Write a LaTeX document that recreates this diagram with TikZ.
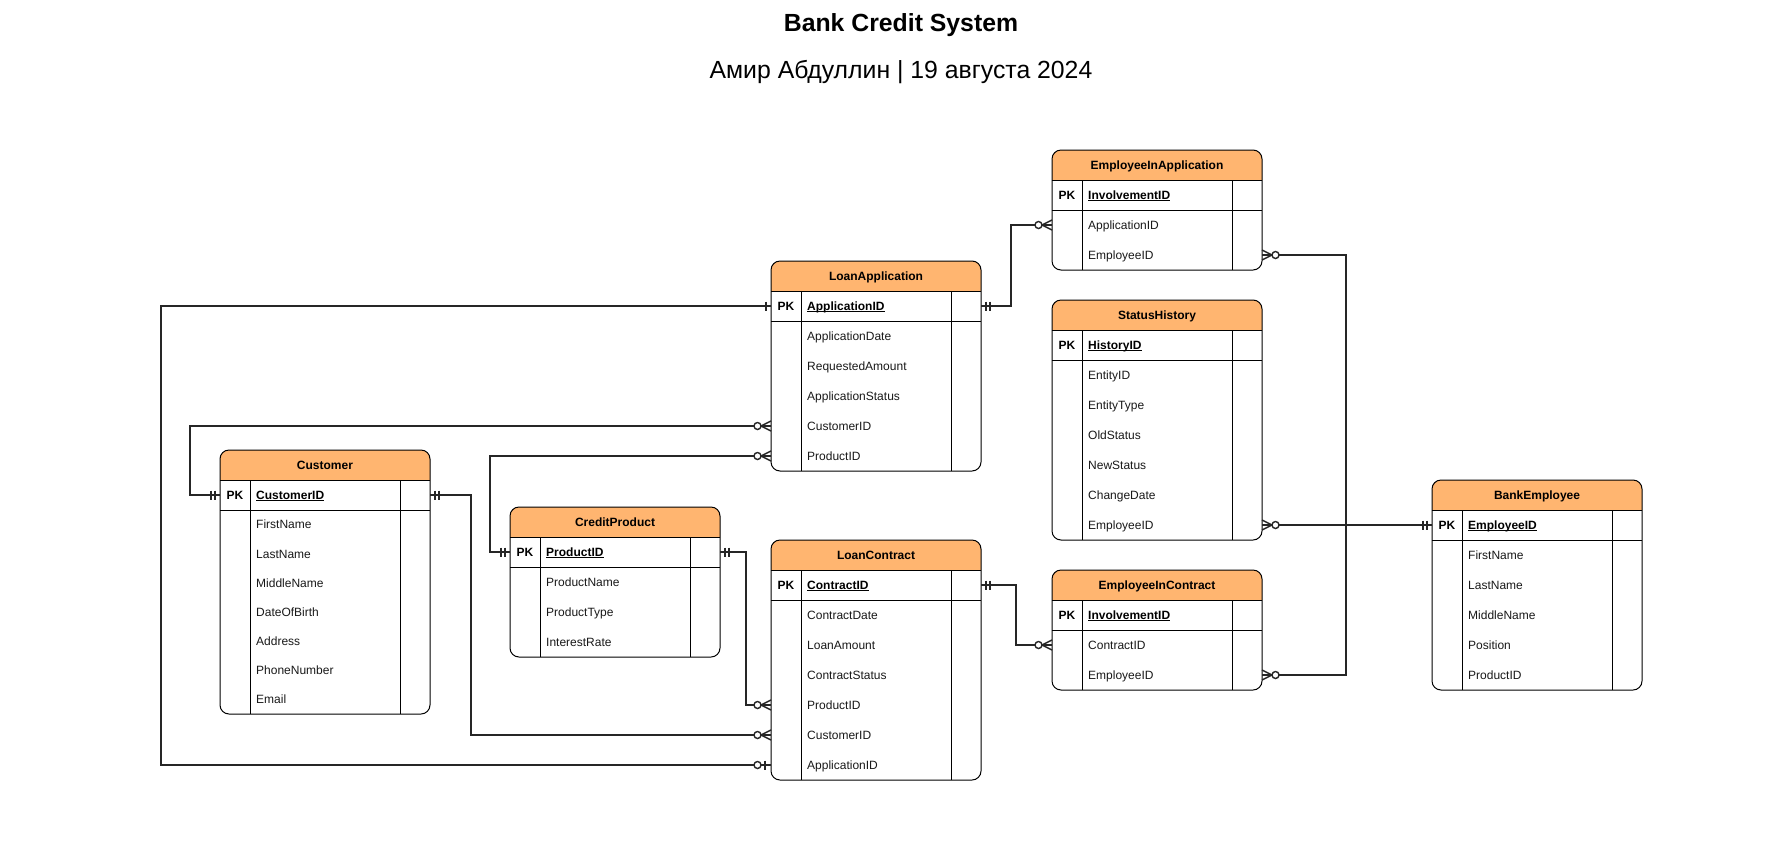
\documentclass[tikz,border=0pt]{standalone}
\usepackage{fontspec}
\setmainfont{Liberation Sans}
\usetikzlibrary{calc}
\definecolor{hdr}{HTML}{FFB570}
\newcommand{\keyul}[1]{\setbox0\hbox{#1}\rlap{\rule[-1.8pt]{\wd0}{0.9pt}}\box0}
\tikzset{
  x=1pt, y=-1pt,
  tbl/.style={draw=black, line width=1pt},
  conn/.style={draw=black!85, line width=1.6pt, line join=miter},
  mk/.style={draw=black!85, line width=1.4pt},
  attr/.style={anchor=base west, font=\fontsize{12}{14}\selectfont, inner sep=0pt, text=black!90},
  keytext/.style={anchor=base west, font=\fontsize{12}{14}\selectfont\bfseries, inner sep=0pt, text=black},
  pktext/.style={anchor=base, font=\fontsize{12}{14}\selectfont\bfseries, inner sep=0pt, text=black},
  hdrtext/.style={anchor=base, font=\fontsize{12}{14}\selectfont\bfseries, inner sep=0pt, text=black},
}
% #1 id, #2 x, #3 y, #4 title, #5 pk, #6 nrows, #7 row height, #8 attrs
\newcommand{\ertable}[8]{%
  \pgfmathsetmacro{\tb}{#3+60+#6*#7}
  \fill[white, rounded corners=9] (#2,#3) rectangle (#2+210,\tb);
  \begin{scope}
    \clip (#2-1,#3-1) rectangle (#2+211,#3+30);
    \fill[hdr, rounded corners=9] (#2,#3) rectangle (#2+210,\tb);
  \end{scope}
  \draw[tbl] (#2,#3+30) -- (#2+210,#3+30);
  \draw[tbl] (#2,#3+60) -- (#2+210,#3+60);
  \draw[tbl] (#2+30,#3+30) -- (#2+30,\tb);
  \draw[tbl] (#2+180,#3+30) -- (#2+180,\tb);
  \draw[tbl, rounded corners=9] (#2,#3) rectangle (#2+210,\tb);
  \node[hdrtext] (#1) at (#2+105,#3+19.3) {#4};
  \node[pktext] (#1-pkl) at (#2+15,#3+49.3) {PK};
  \node[keytext] (#1-pkn) at (#2+36,#3+49.3) {\keyul{#5}};
  \coordinate (#1-pk-l) at (#2,#3+45);
  \coordinate (#1-pk-r) at (#2+210,#3+45);
  \foreach \a [count=\i] in {#8} {
    \pgfmathsetmacro{\yc}{#3+60+(\i-0.5)*#7}
    \node[attr] (#1-a\i) at (#2+36,\yc+4.3) {\a};
    \coordinate (#1-\i-l) at (#2,\yc);
    \coordinate (#1-\i-r) at (#2+210,\yc);
  }
}
% markers: #1 end coordinate, #2 direction (+1 line leaves to the right, -1 to the left)
\newcommand{\mkmandone}[2]{%
  \draw[mk] ($(#1)+(#2*5,-4.5)$) -- ($(#1)+(#2*5,4.5)$);
  \draw[mk] ($(#1)+(#2*9,-4.5)$) -- ($(#1)+(#2*9,4.5)$);}
\newcommand{\mkone}[2]{%
  \draw[mk] ($(#1)+(#2*5,-4.5)$) -- ($(#1)+(#2*5,4.5)$);}
\newcommand{\mkzeromany}[2]{%
  \draw[mk] ($(#1)+(0,-5)$) -- ($(#1)+(#2*10,0)$) -- ($(#1)+(0,5)$);
  \draw[mk, fill=white] ($(#1)+(#2*13.5,0)$) circle[radius=3.5];}
\newcommand{\mkzeroone}[2]{%
  \draw[mk] ($(#1)+(#2*6,-4.5)$) -- ($(#1)+(#2*6,4.5)$);
  \draw[mk, fill=white] ($(#1)+(#2*13.5,0)$) circle[radius=3.5];}

\begin{document}
\begin{tikzpicture}
\useasboundingbox[fill=white] (0,0) rectangle (1783,863);

\node[anchor=base, font=\fontsize{24.8}{28}\selectfont\bfseries, inner sep=0pt] (title) at (901,31) {Bank Credit System};
\node[anchor=base, font=\fontsize{24.8}{28}\selectfont, inner sep=0pt] (subtitle) at (901,78) {Амир Абдуллин | 19 августа 2024};

\ertable{LA}{771}{261}{LoanApplication}{ApplicationID}{5}{30}{ApplicationDate,RequestedAmount,ApplicationStatus,CustomerID,ProductID}
\ertable{EIA}{1052}{150}{EmployeeInApplication}{InvolvementID}{2}{30}{ApplicationID,EmployeeID}
\ertable{SH}{1052}{300}{StatusHistory}{HistoryID}{6}{30}{EntityID,EntityType,OldStatus,NewStatus,ChangeDate,EmployeeID}
\ertable{EIC}{1052}{570}{EmployeeInContract}{InvolvementID}{2}{30}{ContractID,EmployeeID}
\ertable{BE}{1432}{480}{BankEmployee}{EmployeeID}{5}{30}{FirstName,LastName,MiddleName,Position,ProductID}
\ertable{LC}{771}{540}{LoanContract}{ContractID}{6}{30}{ContractDate,LoanAmount,ContractStatus,ProductID,CustomerID,ApplicationID}
\ertable{C}{220}{450}{Customer}{CustomerID}{7}{29.1428}{FirstName,LastName,MiddleName,DateOfBirth,Address,PhoneNumber,Email}
\ertable{CP}{510}{507}{CreditProduct}{ProductID}{3}{30}{ProductName,ProductType,InterestRate}

% connectors
\draw[conn] (LA-pk-r) -- ++(30,0) |- (EIA-1-l);
\draw[conn] (BE-pk-l) -- ++(-86,0) |- (EIA-2-r);
\draw[conn] (BE-pk-l) -- (SH-6-r);
\draw[conn] (BE-pk-l) -- ++(-86,0) |- (EIC-2-r);
\draw[conn] (LA-pk-l) -- ++(-610,0) |- (LC-6-l);
\draw[conn] (C-pk-l) -- ++(-30,0) |- (LA-4-l);
\draw[conn] (C-pk-r) -- ++(41,0) |- (LC-5-l);
\draw[conn] (CP-pk-l) -- ++(-20,0) |- (LA-5-l);
\draw[conn] (CP-pk-r) -- ++(26,0) |- (LC-4-l);
\draw[conn] (LC-pk-r) -- ++(35,0) |- (EIC-1-l);

% markers
\mkmandone{LA-pk-r}{1}
\mkzeromany{EIA-1-l}{-1}
\mkmandone{BE-pk-l}{-1}
\mkzeromany{EIA-2-r}{1}
\mkzeromany{SH-6-r}{1}
\mkzeromany{EIC-2-r}{1}
\mkone{LA-pk-l}{-1}
\mkzeroone{LC-6-l}{-1}
\mkmandone{C-pk-l}{-1}
\mkzeromany{LA-4-l}{-1}
\mkmandone{C-pk-r}{1}
\mkzeromany{LC-5-l}{-1}
\mkmandone{CP-pk-l}{-1}
\mkzeromany{LA-5-l}{-1}
\mkmandone{CP-pk-r}{1}
\mkzeromany{LC-4-l}{-1}
\mkmandone{LC-pk-r}{1}
\mkzeromany{EIC-1-l}{-1}
\end{tikzpicture}
\end{document}
